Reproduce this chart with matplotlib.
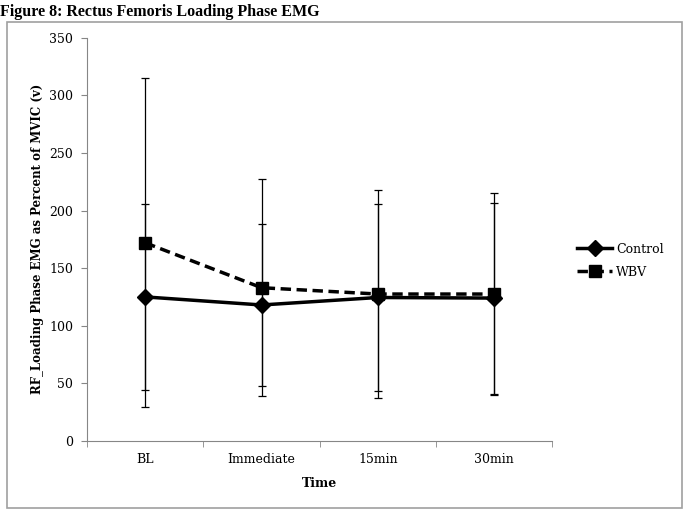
import matplotlib.pyplot as plt
from matplotlib.lines import Line2D
from matplotlib.patches import Rectangle

times = ["BL", "Immediate", "15min", "30min"]
control = [125, 118, 124.5, 124]
control_err = [81, 70, 81, 83]
wbv = [172, 133, 127.5, 127.5]
wbv_err = [143, 94, 90, 88]

if __name__ == "__main__":
    plt.rcParams["font.family"] = ["DejaVu Serif"]
    fig = plt.figure(figsize=(6.86, 5.12), dpi=100)
    ax = fig.add_axes([0.127, 0.139, 0.678, 0.787])

    wbv_style = dict(color="black", linestyle=(0, (3, 1.6)), linewidth=2.5,
                     marker="s", markersize=8.5)
    control_style = dict(color="black", linestyle="-", linewidth=2.5,
                         marker="D", markersize=8.5)

    x = list(range(len(times)))
    ax.errorbar(x, wbv, yerr=wbv_err, capsize=3, ecolor="black",
                elinewidth=0.9, capthick=0.9, zorder=3, **wbv_style)
    ax.errorbar(x, control, yerr=control_err, capsize=3, ecolor="black",
                elinewidth=0.9, capthick=0.9, zorder=4, **control_style)

    ax.set_xlim(-0.5, 3.5)
    ax.set_ylim(0, 350)
    ax.set_yticks(range(0, 351, 50))
    ax.set_xticks(x)
    ax.set_xticklabels(times)
    ax.set_xticks([-0.5, 0.5, 1.5, 2.5, 3.5], minor=True)
    ax.tick_params(axis="x", which="major", length=0, pad=9, labelsize=9)
    ax.tick_params(axis="x", which="minor", length=4, color="#868686", direction="out")
    ax.tick_params(axis="y", length=4, color="#868686", labelsize=9, pad=6)
    for side in ["top", "right"]:
        ax.spines[side].set_visible(False)
    for side in ["left", "bottom"]:
        ax.spines[side].set_color("#868686")

    ax.set_xlabel("Time", fontweight="bold", fontsize=9, labelpad=8)
    ax.set_ylabel("RF_Loading Phase EMG as Percent of MVIC (v)", fontweight="bold",
                  fontsize=8.5, labelpad=4)

    handles = [Line2D([], [], **control_style), Line2D([], [], **wbv_style)]
    fig.legend(handles, ["Control", "WBV"], loc="center left",
               bbox_to_anchor=(0.825, 0.491), frameon=False, fontsize=9,
               handlelength=2.8, labelspacing=0.8, handletextpad=0.3)

    fig.text(0.0, 0.993, "Figure 8: Rectus Femoris Loading Phase EMG",
             fontweight="bold", fontsize=11.5, va="top", ha="left",
             family=["Liberation Serif"])
    fig.patches.append(Rectangle((7 / 686, 4 / 512), 675 / 686, 486 / 512,
                                 transform=fig.transFigure, fill=False,
                                 edgecolor="#a0a0a0", linewidth=1.2))

    fig.savefig("out.png", dpi=100)
